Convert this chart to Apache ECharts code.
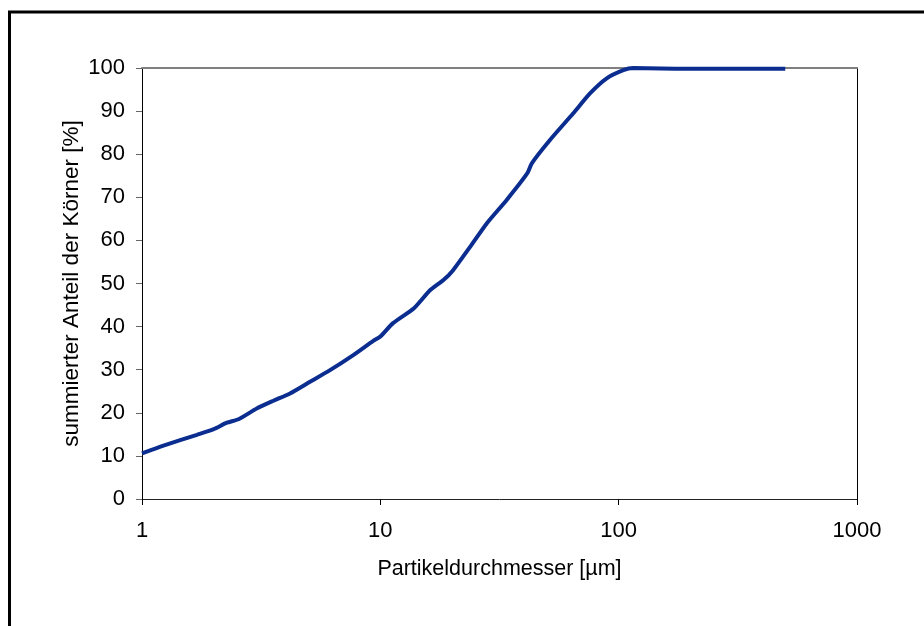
<!DOCTYPE html>
<html>
<head>
<meta charset="utf-8">
<script src="https://cdn.jsdelivr.net/npm/echarts@6/dist/echarts.min.js"></script>
<style>
  html, body { margin: 0; padding: 0; background: #fff; }
  #chart { width: 924px; height: 626px; }
</style>
</head>
<body>
<div id="chart"></div>
<script>
// Kornverteilung: Partikeldurchmesser [µm] gegen summierten Anteil [%]
const diameter = [1, 1.23, 1.7, 2.0, 2.27, 2.54, 3.03, 3.56, 4.18, 5.07, 6.15, 7.7, 9.34, 10,
  11.3, 13.8, 16.2, 18.4, 20.2, 23.8, 28, 33.9, 41.4, 43.2, 51.5, 64.5, 75.8, 89.1, 104.6,
  115, 150, 200, 300, 500];
const share = [10.6, 12.4, 14.9, 16.2, 17.7, 18.5, 21.0, 22.8, 24.5, 27.2, 29.9, 33.4, 36.7, 37.7,
  40.8, 44.2, 48.5, 50.8, 53.1, 58.5, 64.0, 69.4, 75.6, 77.9, 83.3, 89.5, 94.1, 97.6, 99.5,
  100, 99.9, 99.8, 99.8, 99.8];
const xTitle = 'Partikeldurchmesser [µm]';
const yTitle = 'summierter Anteil der Körner [%]';

const font = '"Liberation Sans", Arial, sans-serif';
const chart = echarts.init(document.getElementById('chart'), null, { renderer: 'canvas' });

chart.setOption({
  animation: false,
  backgroundColor: '#fff',
  textStyle: { fontFamily: font },
  grid: { left: 142, right: 67, top: 68, bottom: 127 },
  graphic: [{
    type: 'rect',
    shape: { x: 9.5, y: 12, width: 1000, height: 1000 },
    style: { fill: 'none', stroke: '#000', lineWidth: 3 },
    silent: true, z: 100
  }],
  xAxis: [{
    type: 'log', logBase: 10, min: 1, max: 1000,
    name: xTitle, nameLocation: 'middle', nameGap: 59, nameMoveOverlap: false,
    nameTextStyle: { color: '#000', fontSize: 21.5, fontFamily: font },
    axisLine: { show: true, onZero: false, lineStyle: { color: '#222', width: 1 } },
    axisTick: { show: true, length: 6, lineStyle: { color: '#000' } },
    axisLabel: { color: '#000', fontSize: 22, fontFamily: font, margin: 21,
      formatter: v => String(Math.round(v)) },
    splitLine: { show: false },
    minorTick: { show: false }
  }, {
    type: 'log', logBase: 10, min: 1, max: 1000, position: 'top',
    axisLine: { show: true, onZero: false, lineStyle: { color: '#808080', width: 2 } },
    axisTick: { show: false }, axisLabel: { show: false }, splitLine: { show: false }
  }],
  yAxis: [{
    type: 'value', min: 0, max: 100, interval: 10,
    name: yTitle, nameLocation: 'middle', nameGap: 59, nameRotate: 90, nameMoveOverlap: false,
    nameTextStyle: { color: '#000', fontSize: 22.5, fontFamily: font },
    axisLine: { show: true, onZero: false, lineStyle: { color: '#000', width: 1 } },
    axisTick: { show: true, length: 6, lineStyle: { color: '#666' } },
    axisLabel: { color: '#000', fontSize: 22, fontFamily: font, margin: 17 },
    splitLine: { show: false }
  }, {
    type: 'value', min: 0, max: 100, position: 'right',
    axisLine: { show: true, onZero: false, lineStyle: { color: '#000', width: 1 } },
    axisTick: { show: false }, axisLabel: { show: false }, splitLine: { show: false }
  }],
  series: [{
    type: 'line',
    data: diameter.map((d, i) => [d, share[i]]),
    showSymbol: false,
    smooth: 0.2,
    clip: false,
    lineStyle: { color: '#0a2d8f', width: 4 }
  }]
});
</script>
</body>
</html>
